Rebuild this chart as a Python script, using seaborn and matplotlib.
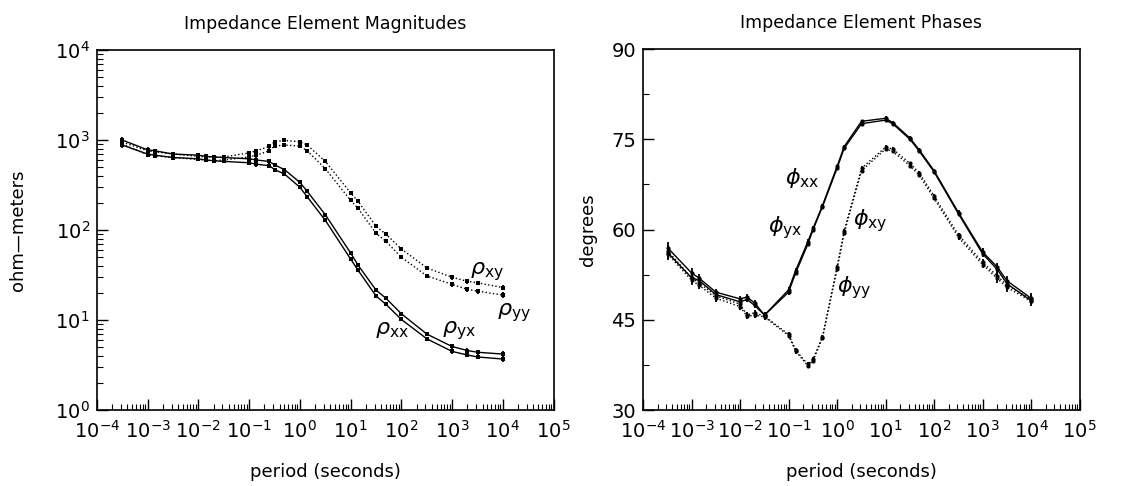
import numpy as np
import pandas as pd
import matplotlib
matplotlib.use("Agg")
import matplotlib.pyplot as plt
import matplotlib.ticker as mticker
import seaborn as sns

# ---------------- data ----------------
period = [3.2e-4, 1e-3, 1.4e-3, 3.2e-3, 1e-2, 1.4e-2, 2e-2, 3.2e-2, 0.1, 0.14, 0.25, 0.32,
          0.5, 1.0, 1.4, 3.2, 10, 14, 32, 50, 100, 320, 1000, 2000, 3200, 10000]

rho_xx = [880, 700, 680, 640, 620, 600, 590, 580, 560, 540, 520, 470,
          420, 300, 235, 128, 48, 36, 18.5, 15, 10.2, 6.2, 4.5, 4.1, 3.9, 3.7]
rho_yx = [1000, 780, 760, 700, 680, 660, 650, 640, 620, 600, 580, 530,
          470, 340, 270, 148, 56, 41, 21.5, 17.5, 11.8, 7.0, 5.1, 4.6, 4.4, 4.2]
rho_xy = [950, 760, 740, 700, 660, 650, 640, 650, 720, 760, 850, 960,
          990, 960, 880, 580, 260, 210, 110, 90, 62, 38, 30, 27, 26, 23]
rho_yy = [900, 690, 670, 640, 610, 600, 590, 600, 650, 680, 760, 860,
          880, 860, 760, 480, 215, 175, 92, 75, 50, 31, 25, 22, 21, 19]
rho_err_pct = [8, 7, 6, 6, 5, 5, 5, 5, 6, 6, 6, 5, 5, 4, 4, 4, 4, 4, 4, 4, 4, 5, 6, 6, 6, 7]

phi_xx = [57.0, 52.8, 52.0, 49.6, 48.5, 48.8, 47.8, 45.8, 50.0, 53.2, 58.0, 60.2,
          64.0, 70.5, 73.8, 78.0, 78.5, 77.8, 75.2, 73.2, 69.8, 62.8, 56.3, 53.8, 51.5, 48.6]
phi_yx = [56.2, 52.0, 51.6, 49.2, 48.0, 48.4, 47.4, 45.8, 49.6, 52.8, 57.6, 60.0,
          63.8, 70.2, 73.5, 77.6, 78.2, 77.6, 75.0, 73.0, 69.6, 62.6, 56.0, 53.4, 51.0, 48.2]
phi_xy = [56.5, 52.0, 51.2, 49.0, 47.6, 45.8, 46.2, 45.6, 42.6, 40.0, 37.6, 38.5,
          42.2, 53.8, 59.8, 70.2, 73.7, 73.4, 71.0, 69.4, 65.6, 59.1, 54.6, 52.3, 50.8, 48.4]
phi_yy = [56.0, 51.6, 50.8, 48.6, 47.2, 45.6, 45.8, 45.5, 42.4, 39.8, 37.4, 38.2,
          42.0, 53.4, 59.4, 69.8, 73.4, 73.0, 70.6, 69.0, 65.2, 58.7, 54.2, 51.9, 50.4, 48.1]
phi_err = [1.0, 0.8, 0.6, 0.6, 0.5, 0.5, 0.5, 0.5, 0.4, 0.4, 0.4, 0.4,
           0.3, 0.3, 0.3, 0.3, 0.3, 0.3, 0.3, 0.3, 0.3, 0.4, 0.6, 0.7, 0.8, 0.8]

mag_series = [("xx", rho_xx, "-"), ("yx", rho_yx, "-"), ("xy", rho_xy, ":"), ("yy", rho_yy, ":")]
phs_series = [("xx", phi_xx, "-"), ("yx", phi_yx, "-"), ("xy", phi_xy, ":"), ("yy", phi_yy, ":")]

# ---------------- style ----------------
sns.set_style("ticks")
plt.rcParams["font.family"] = ["DejaVu Sans"]
plt.rcParams["mathtext.fontset"] = "dejavusans"
for key in ("text.color", "axes.labelcolor", "xtick.color", "ytick.color", "axes.edgecolor"):
    plt.rcParams[key] = "black"

fig = plt.figure(figsize=(11.25, 4.86), dpi=100)
ax1 = fig.add_axes([0.086, 0.156, 0.406, 0.741])
ax2 = fig.add_axes([0.5716, 0.156, 0.388, 0.743])

per = np.array(period)

for name, vals, ls in mag_series:
    df = pd.DataFrame({"period": period, "value": vals})
    sns.lineplot(data=df, x="period", y="value", ax=ax1, color="k", linestyle=ls,
                 linewidth=1.0, marker="s", markersize=2.5, markeredgewidth=0, legend=False)
    v = np.array(vals)
    e = v * np.array(rho_err_pct) / 100.0
    ax1.errorbar(per, v, yerr=e, fmt="none", ecolor="k", elinewidth=1.3, capsize=0)

for name, vals, ls in phs_series:
    df = pd.DataFrame({"period": period, "value": vals})
    sns.lineplot(data=df, x="period", y="value", ax=ax2, color="k", linestyle=ls,
                 linewidth=1.0, marker="o", markersize=3, markeredgewidth=0, legend=False)
    ax2.errorbar(per, vals, yerr=phi_err, fmt="none", ecolor="k", elinewidth=1.3, capsize=0)

# axes formatting
for ax in (ax1, ax2):
    ax.set_xscale("log")
    ax.set_xlim(1e-4, 1e5)
    ax.xaxis.set_major_locator(mticker.LogLocator(base=10, numticks=20))
    ax.xaxis.set_minor_locator(mticker.LogLocator(base=10, subs=np.arange(2, 10), numticks=20))
    ax.xaxis.set_minor_formatter(mticker.NullFormatter())
    ax.tick_params(which="major", direction="in", length=8, width=1.0, labelsize=14,
                   top=False, right=False, colors="k")
    ax.tick_params(axis="x", which="major", pad=7)
    ax.tick_params(axis="y", which="major", pad=5)
    ax.tick_params(which="minor", direction="in", length=4, width=0.8, top=False, right=False,
                   colors="k")
    for s in ax.spines.values():
        s.set_visible(True)
        s.set_linewidth(1.2)
        s.set_color("k")
    ax.set_xlabel("period (seconds)", fontsize=13, labelpad=15)
    ax.grid(False)

ax1.set_yscale("log")
ax1.set_ylim(1, 1e4)
ax1.yaxis.set_major_locator(mticker.LogLocator(base=10, numticks=10))
ax1.yaxis.set_minor_locator(mticker.LogLocator(base=10, subs=np.arange(2, 10), numticks=10))
ax1.yaxis.set_minor_formatter(mticker.NullFormatter())
ax1.set_ylabel("ohm\u2014meters", fontsize=13, labelpad=20)
ax1.set_title("Impedance Element Magnitudes", fontsize=12.5, pad=15)

ax2.set_ylim(30, 90)
ax2.yaxis.set_major_locator(mticker.MultipleLocator(15))
ax2.yaxis.set_minor_locator(mticker.MultipleLocator(7.5))
ax2.set_ylabel("degrees", fontsize=13, labelpad=10)
ax2.set_title("Impedance Element Phases", fontsize=12.5, pad=15)

# curve labels
lab = dict(fontsize=16, color="k")
ax1.text(30, 7.7, r"$\rho_{\mathrm{xx}}$", ha="left", va="center", **lab)
ax1.text(630, 7.7, r"$\rho_{\mathrm{yx}}$", ha="left", va="center", **lab)
ax1.text(2300, 35, r"$\rho_{\mathrm{xy}}$", ha="left", va="center", **lab)
ax1.text(7800, 12, r"$\rho_{\mathrm{yy}}$", ha="left", va="center", **lab)

ax2.text(0.083, 68.6, r"$\phi_{\mathrm{xx}}$", ha="left", va="center", **lab)
ax2.text(0.037, 60.4, r"$\phi_{\mathrm{yx}}$", ha="left", va="center", **lab)
ax2.text(2.1, 61.5, r"$\phi_{\mathrm{xy}}$", ha="left", va="center", **lab)
ax2.text(1.0, 50.3, r"$\phi_{\mathrm{yy}}$", ha="left", va="center", **lab)

fig.savefig("out.png", dpi=100, facecolor="white")
